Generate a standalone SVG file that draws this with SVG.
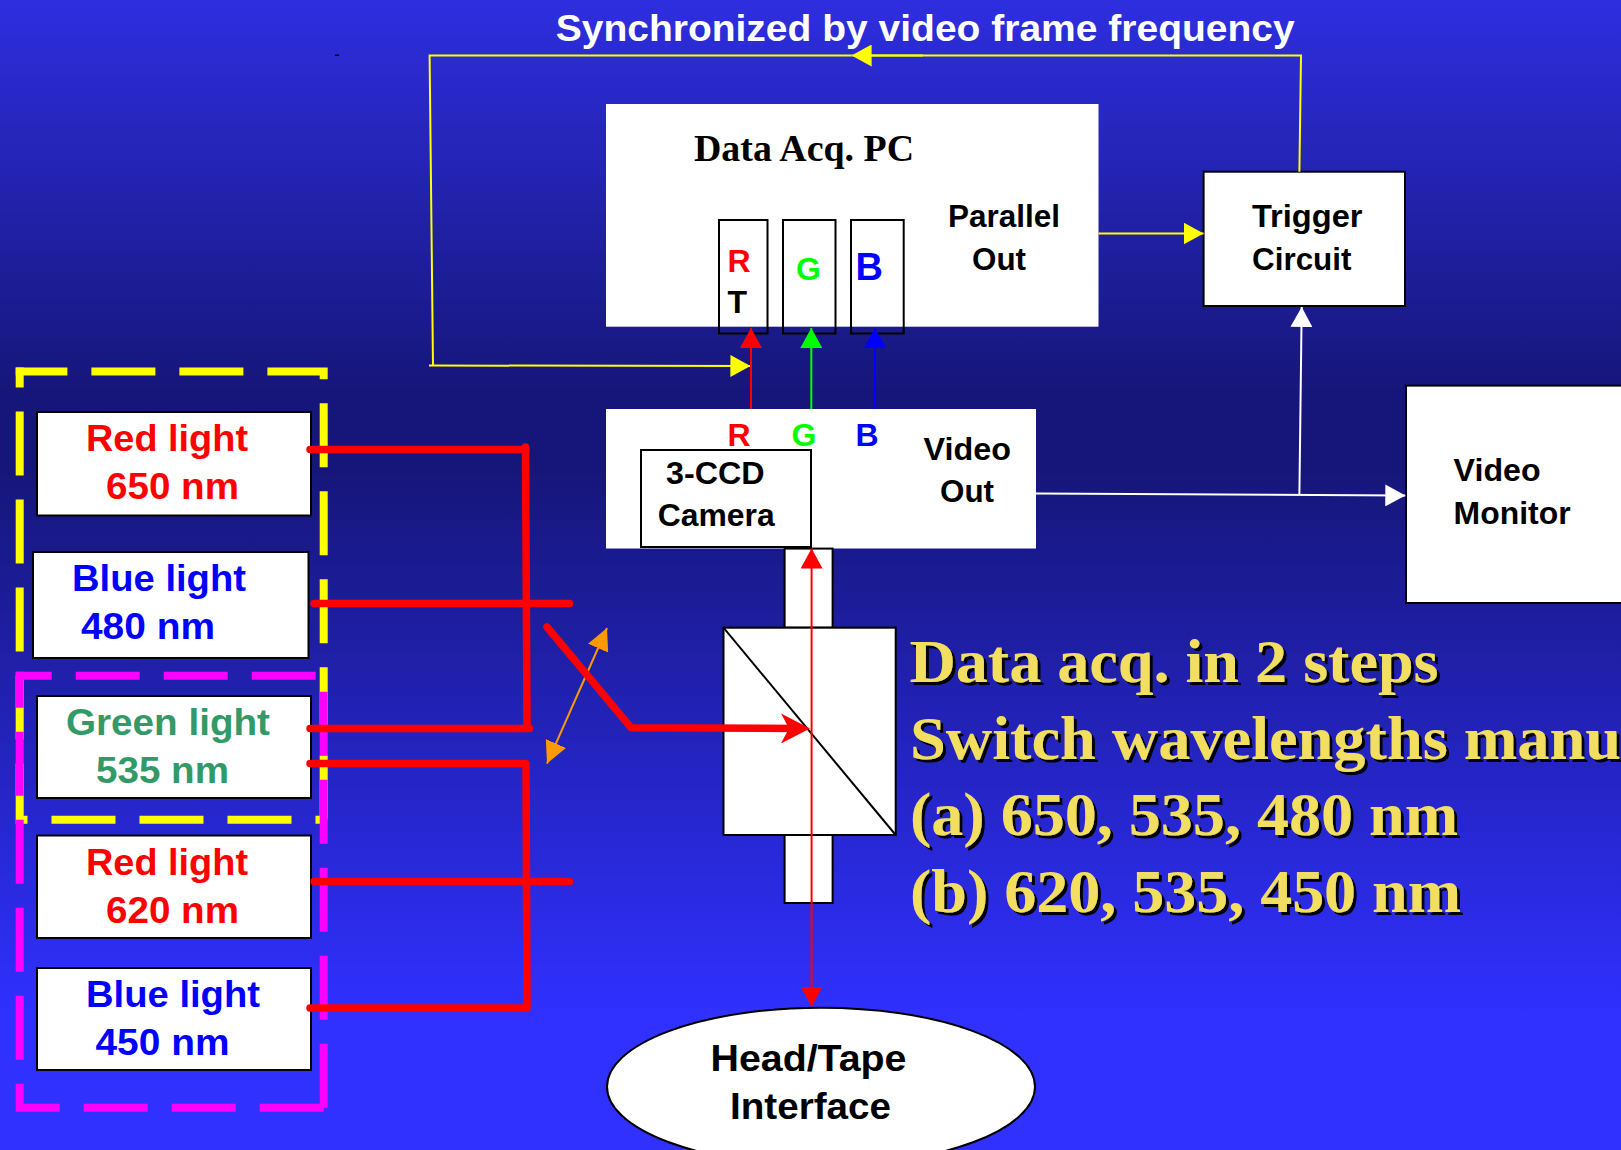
<svg xmlns="http://www.w3.org/2000/svg" width="1621" height="1150" viewBox="0 0 1621 1150">
<style>
.box{fill:#fff;stroke:#000;stroke-width:2}
.slot{fill:none;stroke:#000;stroke-width:2}
.plain{fill:#fff}
.t{font-family:"Liberation Sans",Arial,sans-serif;font-weight:700;font-size:32px;fill:#000}
.l{font-size:37px}
.s{font-family:"Liberation Serif","Times New Roman",serif;font-weight:700}
.big{font-size:62px;fill:#f2de60;filter:url(#shadow)}
.red{fill:#f00}.blue{fill:#00f}.grn{fill:#0f0}.sea{fill:#339966}
.wire{fill:none;stroke-width:2}
.beam{fill:none;stroke:#f00;stroke-width:7.5;stroke-linecap:round;stroke-linejoin:round}
.dash{fill:none;stroke-width:8;stroke-dasharray:64 24}
</style>
<defs>
<linearGradient id="bg" x1="0" y1="0" x2="0" y2="1">
<stop offset="0" stop-color="#2e2ee0"/><stop offset="0.34" stop-color="#16167a"/><stop offset="0.41" stop-color="#16167a"/><stop offset="0.88" stop-color="#3030ff"/><stop offset="1" stop-color="#3030ff"/>
</linearGradient>
<filter id="shadow" x="-5%" y="-20%" width="110%" height="140%">
<feOffset in="SourceAlpha" dx="3" dy="3" result="o"/><feFlood flood-color="#000"/><feComposite in2="o" operator="in"/>
<feMerge><feMergeNode/><feMergeNode in="SourceGraphic"/></feMerge>
</filter>
<marker id="aY" markerUnits="userSpaceOnUse" markerWidth="20" markerHeight="22" refX="20" refY="11" orient="auto-start-reverse"><path d="M0 0L20 11L0 22z" fill="#ff0"/></marker>
<marker id="aR" markerUnits="userSpaceOnUse" markerWidth="20" markerHeight="22" refX="20" refY="11" orient="auto-start-reverse"><path d="M0 0L20 11L0 22z" fill="#f00"/></marker>
<marker id="aG" markerUnits="userSpaceOnUse" markerWidth="20" markerHeight="22" refX="20" refY="11" orient="auto-start-reverse"><path d="M0 0L20 11L0 22z" fill="#0f0"/></marker>
<marker id="aB" markerUnits="userSpaceOnUse" markerWidth="20" markerHeight="22" refX="20" refY="11" orient="auto-start-reverse"><path d="M0 0L20 11L0 22z" fill="#00f"/></marker>
<marker id="aW" markerUnits="userSpaceOnUse" markerWidth="20" markerHeight="22" refX="20" refY="11" orient="auto-start-reverse"><path d="M0 0L20 11L0 22z" fill="#fff"/></marker>
<marker id="aO" markerUnits="userSpaceOnUse" markerWidth="22" markerHeight="22" refX="22" refY="11" orient="auto-start-reverse"><path d="M0 0L22 11L0 22z" fill="#f90"/></marker>
<marker id="aT" markerUnits="userSpaceOnUse" markerWidth="30" markerHeight="30" refX="14" refY="15" orient="auto"><path d="M0 0L29 15L0 30L8 15z" fill="#f00"/></marker>
</defs>
<rect id="background" width="1621" height="1150" fill="url(#bg)"/>
<rect x="335" y="54.500" width="4" height="1.500" fill="#000"/>

<g id="group-a" stroke="#ff0">
<path class="dash" stroke-dashoffset="12.300" d="M15.700 371.500H323.700V819.700"/>
<path class="dash" stroke-dashoffset="44" d="M19.700 367.500V819.700H323.700"/>
</g>
<g id="group-b" stroke="#f0f">
<path class="dash" stroke-dashoffset="28" d="M15.700 675.700H323.700V1107.700"/>
<path class="dash" stroke-dashoffset="28" d="M19.700 671.700V1107.700H323.700"/>
</g>

<g id="red-650"><rect class="box" x="37" y="412" width="274" height="103.500"/>
<text class="t l red" x="86" y="451" textLength="162" lengthAdjust="spacingAndGlyphs">Red light</text>
<text class="t l red" x="106" y="498.500" textLength="133" lengthAdjust="spacingAndGlyphs">650 nm</text></g>
<g id="blue-480"><rect class="box" x="33" y="552" width="275.500" height="106"/>
<text class="t l blue" x="72" y="590.500" textLength="174" lengthAdjust="spacingAndGlyphs">Blue light</text>
<text class="t l blue" x="81" y="638.500" textLength="134" lengthAdjust="spacingAndGlyphs">480 nm</text></g>
<g id="green-535"><rect class="box" x="37" y="696" width="274" height="102"/>
<text class="t l sea" x="66" y="735" textLength="204" lengthAdjust="spacingAndGlyphs">Green light</text>
<text class="t l sea" x="96" y="782.500" textLength="133" lengthAdjust="spacingAndGlyphs">535 nm</text></g>
<g id="red-620"><rect class="box" x="37" y="835.500" width="274" height="102.500"/>
<text class="t l red" x="86" y="874.500" textLength="162" lengthAdjust="spacingAndGlyphs">Red light</text>
<text class="t l red" x="106" y="922.500" textLength="133" lengthAdjust="spacingAndGlyphs">620 nm</text></g>
<g id="blue-450"><rect class="box" x="37" y="968" width="274" height="102"/>
<text class="t l blue" x="86" y="1007" textLength="174" lengthAdjust="spacingAndGlyphs">Blue light</text>
<text class="t l blue" x="95.500" y="1055" textLength="134" lengthAdjust="spacingAndGlyphs">450 nm</text></g>

<g id="data-acq-pc"><rect class="plain" x="606" y="104" width="492.500" height="222.700"/>
<text class="s" font-size="37" x="694" y="160.500" textLength="220" lengthAdjust="spacingAndGlyphs">Data Acq. PC</text>
<text class="t" x="948" y="227" textLength="112" lengthAdjust="spacingAndGlyphs">Parallel</text>
<text class="t" x="972" y="269.500" textLength="54" lengthAdjust="spacingAndGlyphs">Out</text></g>
<g id="slot-r"><rect class="slot" x="719" y="220" width="48.500" height="113.500"/>
<text class="t red" x="727.500" y="272">R</text><text class="t" x="727.500" y="312.500">T</text></g>
<g id="slot-g"><rect class="slot" x="783" y="220" width="52.500" height="113.500"/><text class="t grn" x="796" y="279.500">G</text></g>
<g id="slot-b"><rect class="slot" x="851" y="220" width="52.700" height="113.500"/><text class="t blue" style="font-size:38px" x="855.500" y="280">B</text></g>

<g id="trigger"><rect class="box" x="1203.600" y="171.700" width="201.400" height="134.300"/>
<text class="t" x="1252" y="227" textLength="110.500" lengthAdjust="spacingAndGlyphs">Trigger</text>
<text class="t" x="1252" y="269.500" textLength="99.500" lengthAdjust="spacingAndGlyphs">Circuit</text></g>

<g id="video-out"><rect class="plain" x="606" y="409" width="430" height="139.500"/>
<text class="t red" x="727.500" y="445.500">R</text><text class="t grn" x="791.500" y="445.500">G</text><text class="t blue" x="855.500" y="445.500">B</text>
<text class="t" x="923.500" y="460" textLength="87.500" lengthAdjust="spacingAndGlyphs">Video</text>
<text class="t" x="940" y="501.500" textLength="54" lengthAdjust="spacingAndGlyphs">Out</text></g>
<g id="camera"><rect class="box" x="641" y="450" width="170" height="97"/>
<text class="t" x="666" y="484" textLength="98.500" lengthAdjust="spacingAndGlyphs">3-CCD</text>
<text class="t" x="657.700" y="525.500" textLength="117" lengthAdjust="spacingAndGlyphs">Camera</text></g>

<g id="monitor"><rect class="box" x="1406" y="385.600" width="240" height="217.400"/>
<text class="t" x="1453.600" y="481" textLength="87" lengthAdjust="spacingAndGlyphs">Video</text>
<text class="t" x="1453.600" y="523.500" textLength="117" lengthAdjust="spacingAndGlyphs">Monitor</text></g>

<g id="optics"><rect class="box" x="784.600" y="548.600" width="48" height="79"/>
<rect class="box" x="784.600" y="835" width="48" height="68"/>
<rect class="box" x="723.500" y="627.700" width="172.200" height="207.300"/>
<path d="M723.500 627.700L895.700 835" fill="none" stroke="#000" stroke-width="2"/></g>

<g id="head-tape"><ellipse class="box" cx="821" cy="1086.700" rx="214" ry="79"/>
<text class="t l" x="710.500" y="1070.500" textLength="196" lengthAdjust="spacingAndGlyphs">Head/Tape</text>
<text class="t l" x="730" y="1119" textLength="161" lengthAdjust="spacingAndGlyphs">Interface</text></g>

<g id="connectors">
<path class="wire" stroke="#ff0" d="M1299.400 171.700L1301 55.500L851.600 55.500" marker-end="url(#aY)"/>
<path class="wire" stroke="#ff0" d="M870 55.500L923 55.500" stroke-width="3"/>
<path class="wire" stroke="#ff0" d="M851.600 55.500L429.600 55.500L433 365.500"/>
<path class="wire" stroke="#ff0" d="M429 365.500L750.400 366" marker-end="url(#aY)"/>
<path class="wire" stroke="#ff0" d="M1098.500 233.500L1203.600 233.500" marker-end="url(#aY)"/>
<path class="wire" stroke="#f00" d="M751 409L751 328" marker-end="url(#aR)"/>
<path class="wire" stroke="#0f0" d="M811.300 409L811.300 328" marker-end="url(#aG)"/>
<path class="wire" stroke="#00f" d="M875 409L875 328" marker-end="url(#aB)"/>
<path class="wire" stroke="#fff" d="M1036 493.500L1405.300 495.500" marker-end="url(#aW)"/>
<path class="wire" stroke="#fff" d="M1299.400 494.500L1301.700 307" marker-end="url(#aW)"/>
<path class="wire" stroke="#f00" d="M811.600 548.500L811.600 1006.500" marker-start="url(#aR)" marker-end="url(#aR)"/>
<path class="wire" stroke="#f90" d="M547 763.600L607 628" marker-start="url(#aO)" marker-end="url(#aO)"/>
<path class="beam" d="M310 449.500L526 449.500M525.500 447L527 728.500M310 728.500L529.500 728.500"/>
<path class="beam" d="M314 603.500L569.500 603.500M314 881.500L569.500 881.500"/>
<path class="beam" d="M310 763.500L526 763.500L527 1008M310 1008L527 1008"/>
<path class="beam" d="M547 627L631 727.700L795 728.500" marker-end="url(#aT)"/>
</g>

<g id="headings">
<text class="t" style="font-size:36px;fill:#fff" x="555.700" y="41" textLength="739" lengthAdjust="spacingAndGlyphs">Synchronized by video frame frequency</text>
<text class="s big" x="909.500" y="682" textLength="529" lengthAdjust="spacingAndGlyphs">Data acq. in 2 steps</text>
<text class="s big" x="910" y="758.500" textLength="711" lengthAdjust="spacingAndGlyphs">Switch wavelengths manu</text>
<text class="s big" x="910" y="835" textLength="548" lengthAdjust="spacingAndGlyphs">(a) 650, 535, 480 nm</text>
<text class="s big" x="910" y="911.500" textLength="551" lengthAdjust="spacingAndGlyphs">(b) 620, 535, 450 nm</text>
</g>
</svg>
